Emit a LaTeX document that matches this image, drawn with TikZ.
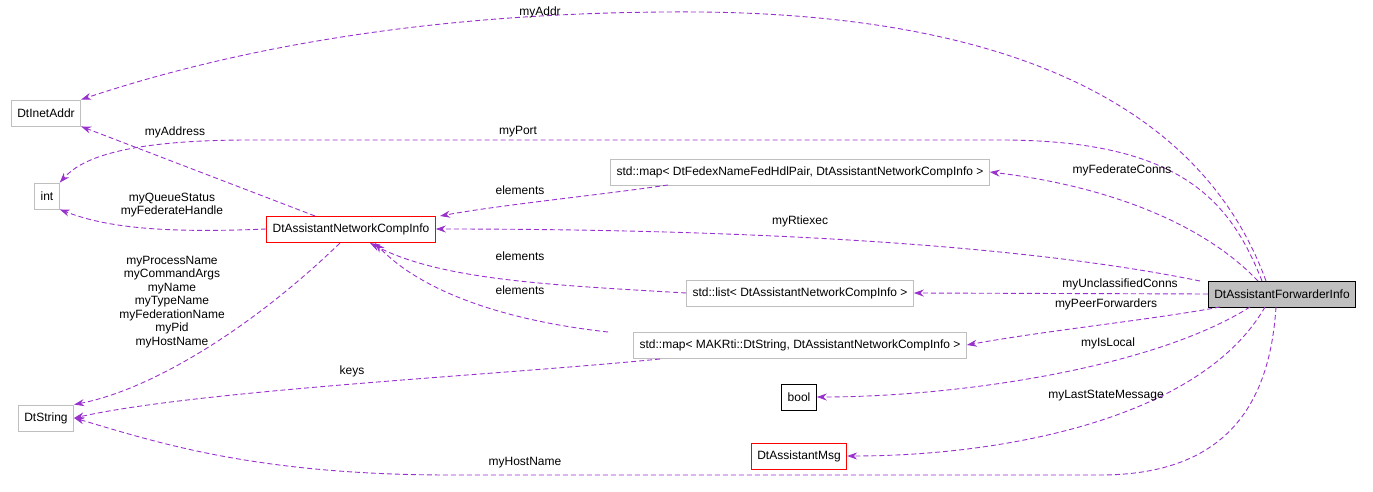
\documentclass[tikz,border=0pt]{standalone}
\usepackage{fontspec}
\setmainfont{Liberation Sans}
\usetikzlibrary{arrows.meta}
\definecolor{edgec}{RGB}{153,50,204}
\definecolor{boxg}{RGB}{191,191,191}
\begin{document}
\begin{tikzpicture}[x=1pt,y=-1pt,font=\fontsize{12}{13.5}\selectfont,
 box/.style={draw=#1,rectangle,minimum height=26pt,inner xsep=6pt,fill=white,line width=0.9pt},
 e/.style={draw=edgec,line width=0.9pt,-{Stealth[length=10pt,width=7pt]},dash pattern=on 5pt off 3pt},
 lab/.style={inner sep=1pt,align=center}]
\useasboundingbox (0,0) rectangle (1373,492);
\node[box=boxg] (inet) at (46,113) {DtInetAddr};
\node[box=boxg] (int) at (47,196) {int};
\node[box=boxg] (str) at (46,418) {DtString};
\node[box=red] (nci) at (351,229) {DtAssistantNetworkCompInfo};
\node[box=boxg] (m1) at (800,172) {std::map\textless{} DtFedexNameFedHdlPair, DtAssistantNetworkCompInfo \textgreater};
\node[box=boxg] (lst) at (800,293) {std::list\textless{} DtAssistantNetworkCompInfo \textgreater};
\node[box=boxg] (m2) at (800,345) {std::map\textless{} MAKRti::DtString, DtAssistantNetworkCompInfo \textgreater};
\node[box=black] (bool) at (799,397) {bool};
\node[box=red] (msg) at (799,456) {DtAssistantMsg};
\node[box=black,fill=boxg] (fwd) at (1282,294) {DtAssistantForwarderInfo};
\coordinate (fa) at (1266,281);
\coordinate (fb) at (1262,281);
\coordinate (fc) at (1276,307);
\draw[e] (fa) .. controls (1200,100) and (1000,15) .. (700,12) .. controls (400,10) and (200,60) .. (inet.north east);
\node[lab] at (540,12) {myAddr};
\draw[e] (fb) .. controls (1230,200) and (1180,140) .. (1000,140) -- (250,140) .. controls (120,140) and (80,160) .. (int.north east);
\node[lab] at (518,132) {myPort};
\draw[e] (1258,281) .. controls (1200,220) and (1100,185) .. (m1.east);
\node[lab] at (1122,170) {myFederateConns};
\draw[e] (1200,281) .. controls (1000,240) and (700,229) .. (nci.east);
\node[lab] at (800,221) {myRtiexec};
\draw[e] (fwd.west) -- (lst.east);
\node[lab] at (1120,284) {myUnclassifiedConns};
\draw[e] (1220,307) .. controls (1150,320) and (1050,330) .. (m2.east);
\node[lab] at (1106,304) {myPeerForwarders};
\draw[e] (1250,307) .. controls (1150,370) and (950,397) .. (bool.east);
\node[lab] at (1108,343) {myIsLocal};
\draw[e] (1265,307) .. controls (1200,420) and (1000,456) .. (msg.east);
\node[lab] at (1106,396) {myLastStateMessage};
\draw[e] (fc) .. controls (1270,400) and (1230,475) .. (1100,475) -- (450,475) .. controls (250,475) and (150,440) .. (str.east);
\node[lab] at (525,463) {myHostName};
\draw[e] (315,216) -- (inet.south east);
\node[lab] at (175,132) {myAddress};
\draw[e] (nci.west) .. controls (150,234) and (100,225) .. (int.south east);
\node[lab] at (172,205) {myQueueStatus\\myFederateHandle};
\draw[e] (340,243) .. controls (250,330) and (150,390) .. (str.north east);
\node[lab] at (172,302) {myProcessName\\myCommandArgs\\myName\\myTypeName\\myFederationName\\myPid\\myHostName};
\draw[e] (668,185) .. controls (600,195) and (500,205) .. (440,216);
\node[lab] at (520,190) {elements};
\draw[e] (lst.west) .. controls (550,285) and (440,280) .. (370,243);
\node[lab] at (520,256) {elements};
\draw[e] (608,332) .. controls (500,320) and (420,290) .. (375,243);
\node[lab] at (520,290) {elements};
\draw[e] (660,359) .. controls (500,375) and (200,390) .. (str.east);
\node[lab] at (352,371) {keys};
\end{tikzpicture}
\end{document}
